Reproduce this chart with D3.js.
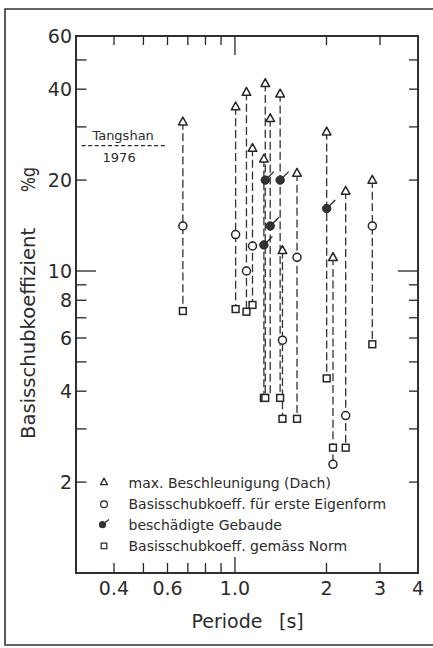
<!DOCTYPE html>
<html><head><meta charset="utf-8">
<script src="https://cdn.jsdelivr.net/npm/d3@7"></script>
<style>
body{margin:0;background:#fff}
svg{display:block}
text{font-family:"DejaVu Sans",sans-serif;fill:#2b2b2b}
</style>
</head><body>
<svg id="chart" width="433" height="648"></svg>
<script>
// ---- data ----
const periods       = [0.674, 1.005, 1.091, 1.142, 1.245, 1.258, 1.306, 1.408, 1.433, 1.60, 2.003, 2.101, 2.313, 2.83];
const maxAccel      = [31.2, 35.0, 39.1, 25.5, 23.5, 41.8, 32.0, 38.6, 11.7, 21.1, 28.9, 11.1, 18.4, 20.0];
const shearMode1    = [14.1, 13.2, 10.0, 12.1, 12.2, 20.0, 14.1, 20.0, 5.9, 11.1, 16.1, 2.29, 3.32, 14.1];
const damaged       = [false,false,false,false,true,true,true,true,false,false,true,false,false,false];
const shearCode     = [7.37, 7.48, 7.33, 7.72, 3.8, 3.8, null, 3.8, 3.24, 3.24, 4.41, 2.60, 2.60, 5.72];
const dashLow       = [null, null, null, null, null, null, 3.9, null, null, null, null, null, null, null];

const tangshanLevel = 26;
const tangshanSpan  = [0.313, 0.596];

const yLabelTicks = [60, 40, 20, 10, 8, 6, 4, 2];
const yMinorTicks = [50, 30, 9, 7, 5, 3];
const xLabelTicks = [0.4, 0.6, 1.0, 2, 3, 4];
const xLabelText  = ["0.4", "0.6", "1.0", "2", "3", "4"];
const xMinorTicks = [0.5, 0.7, 0.8, 0.9];

const legendLabels = [
  "max. Beschleunigung (Dach)",
  "Basisschubkoeff. für erste Eigenform",
  "beschädigte Gebaude",
  "Basisschubkoeff. gemäss Norm"
];

// ---- layout ----
const svg = d3.select("#chart");
const L = 76, R = 418, T = 36, B = 573;
const x = d3.scaleLog().domain([0.3, 4]).range([L, R]);
const y = d3.scaleLog().domain([1, 60]).range([B, T]);
const ink = "#262626";

// outer frame (open on the right, cut by the page)
svg.append("path")
  .attr("d", "M433,9 H5 V645 H433")
  .attr("fill", "none").attr("stroke", "#333").attr("stroke-width", 1.6);

// ---- ticks ----
const tk = svg.append("g").attr("stroke", ink).attr("stroke-width", 1.3);
const yAll = yLabelTicks.concat(yMinorTicks).filter(v => v < 60);
yAll.forEach(v => {
  const len = v === 10 ? 20 : 10.5;
  const lenR = v === 10 ? 20 : 9;
  tk.append("line").attr("x1", L).attr("x2", L + len).attr("y1", y(v)).attr("y2", y(v));
  tk.append("line").attr("x1", R).attr("x2", R - lenR).attr("y1", y(v)).attr("y2", y(v));
});
const xAll = xLabelTicks.concat(xMinorTicks).filter(v => v < 4);
xAll.forEach(v => {
  const lenB = v === 1.0 ? 16 : 10;
  const lenT = v === 1.0 ? 19 : 9;
  tk.append("line").attr("x1", x(v)).attr("x2", x(v)).attr("y1", B).attr("y2", B - lenB);
  tk.append("line").attr("x1", x(v)).attr("x2", x(v)).attr("y1", T).attr("y2", T + lenT);
});

// plot frame
svg.append("rect").attr("x", L).attr("y", T).attr("width", R - L).attr("height", B - T)
  .attr("fill", "none").attr("stroke", ink).attr("stroke-width", 1.9);

// tick labels
svg.append("g").selectAll("text").data(yLabelTicks).join("text")
  .attr("x", 72).attr("y", d => y(d)).attr("dy", "0.36em")
  .attr("text-anchor", "end").attr("font-size", 19)
  .text(d => String(d));
svg.append("g").selectAll("text").data(xLabelTicks).join("text")
  .attr("x", d => x(d)).attr("y", 595)
  .attr("text-anchor", "middle").attr("font-size", 19)
  .text((d, i) => xLabelText[i]);

// axis titles
svg.append("text").attr("x", 191.5).attr("y", 628).attr("font-size", 19).text("Periode");
svg.append("text").attr("x", 279).attr("y", 628).attr("font-size", 19).text("[s]");
svg.append("text").attr("transform", "translate(35,439) rotate(-90)")
  .attr("font-size", 19.6).text("Basisschubkoeffizient");
svg.append("text").attr("transform", "translate(35,192) rotate(-90)")
  .attr("font-size", 19.6).attr("textLength", 25).attr("lengthAdjust", "spacingAndGlyphs").text("%g");

// Tangshan reference
svg.append("line")
  .attr("x1", x(tangshanSpan[0])).attr("x2", x(tangshanSpan[1]))
  .attr("y1", y(tangshanLevel)).attr("y2", y(tangshanLevel))
  .attr("stroke", ink).attr("stroke-width", 1.2).attr("stroke-dasharray", "4,2.6");
const tMid = (x(tangshanSpan[0]) + x(tangshanSpan[1])) / 2;
svg.append("text").attr("x", tMid - 1).attr("y", y(tangshanLevel) - 5.5)
  .attr("text-anchor", "middle").attr("font-size", 13).text("Tangshan");
svg.append("text").attr("x", tMid - 5).attr("y", y(tangshanLevel) + 16)
  .attr("text-anchor", "middle").attr("font-size", 13).text("1976");

// ---- data marks ----
const rows = periods.map((p, i) => ({
  p, tri: maxAccel[i], circ: shearMode1[i], dmg: damaged[i], sq: shearCode[i], low: dashLow[i]
}));

const marks = svg.append("g");
// dashed stems
marks.selectAll("line.stem").data(rows).join("line").attr("class", "stem")
  .attr("x1", d => x(d.p)).attr("x2", d => x(d.p))
  .attr("y1", d => y(d.tri))
  .attr("y2", d => y(d.low != null ? d.low : d3.min([d.circ, d.sq].filter(v => v != null))))
  .attr("stroke", "#333").attr("stroke-width", 1.3).attr("stroke-dasharray", "8,3.6");

const triPath = (cx, cy, w, h) => `M${cx},${cy - h * 0.6}L${cx + w / 2},${cy + h * 0.4}L${cx - w / 2},${cy + h * 0.4}Z`;

// squares
marks.selectAll("rect.sq").data(rows.filter(d => d.sq != null)).join("rect").attr("class", "sq")
  .attr("x", d => x(d.p) - 3.4).attr("y", d => y(d.sq) - 3.4)
  .attr("width", 6.8).attr("height", 6.8)
  .attr("fill", "#fff").attr("stroke", ink).attr("stroke-width", 1.5);
// open circles
marks.selectAll("circle.op").data(rows.filter(d => !d.dmg)).join("circle").attr("class", "op")
  .attr("cx", d => x(d.p)).attr("cy", d => y(d.circ)).attr("r", 4)
  .attr("fill", "#fff").attr("stroke", ink).attr("stroke-width", 1.5);
// damaged (filled circles with flag)
const dm = marks.selectAll("g.dm").data(rows.filter(d => d.dmg)).join("g").attr("class", "dm")
  .attr("transform", d => `translate(${x(d.p)},${y(d.circ)})`);
dm.append("line").attr("x1", 2.5).attr("y1", -2.5).attr("x2", 8.5).attr("y2", -8.5)
  .attr("stroke", ink).attr("stroke-width", 1.3);
dm.append("circle").attr("r", 4.2).attr("fill", "#333").attr("stroke", ink).attr("stroke-width", 1);
// triangles
marks.selectAll("path.tri").data(rows).join("path").attr("class", "tri")
  .attr("d", d => triPath(x(d.p), y(d.tri), 8.6, 7.8))
  .attr("fill", "#fff").attr("stroke", ink).attr("stroke-width", 1.5).attr("stroke-linejoin", "round");

// ---- legend ----
const lg = svg.append("g");
const lgX = 104, lgTextX = 128.5;
const lgBase = [487.5, 508.7, 529.5, 550.5];
lg.append("path").attr("d", triPath(lgX, lgBase[0] - 5.5, 7, 6.5))
  .attr("fill", "none").attr("stroke", ink).attr("stroke-width", 1.2).attr("stroke-linejoin", "round");
lg.append("circle").attr("cx", lgX).attr("cy", lgBase[1] - 4.5).attr("r", 3.4)
  .attr("fill", "none").attr("stroke", ink).attr("stroke-width", 1.2);
lg.append("line").attr("x1", lgX).attr("y1", lgBase[2] - 6).attr("x2", lgX + 5).attr("y2", lgBase[2] - 10)
  .attr("stroke", ink).attr("stroke-width", 1.2);
lg.append("circle").attr("cx", lgX - 1.5).attr("cy", lgBase[2] - 4.8).attr("r", 3.6).attr("fill", "#333");
lg.append("rect").attr("x", lgX - 2.8).attr("y", lgBase[3] - 7.4).attr("width", 5.6).attr("height", 5.6)
  .attr("fill", "none").attr("stroke", ink).attr("stroke-width", 1.2);
lg.selectAll("text").data(legendLabels).join("text")
  .attr("x", lgTextX).attr("y", (d, i) => lgBase[i]).attr("font-size", 14)
  .text(d => d);
</script>
</body></html>
